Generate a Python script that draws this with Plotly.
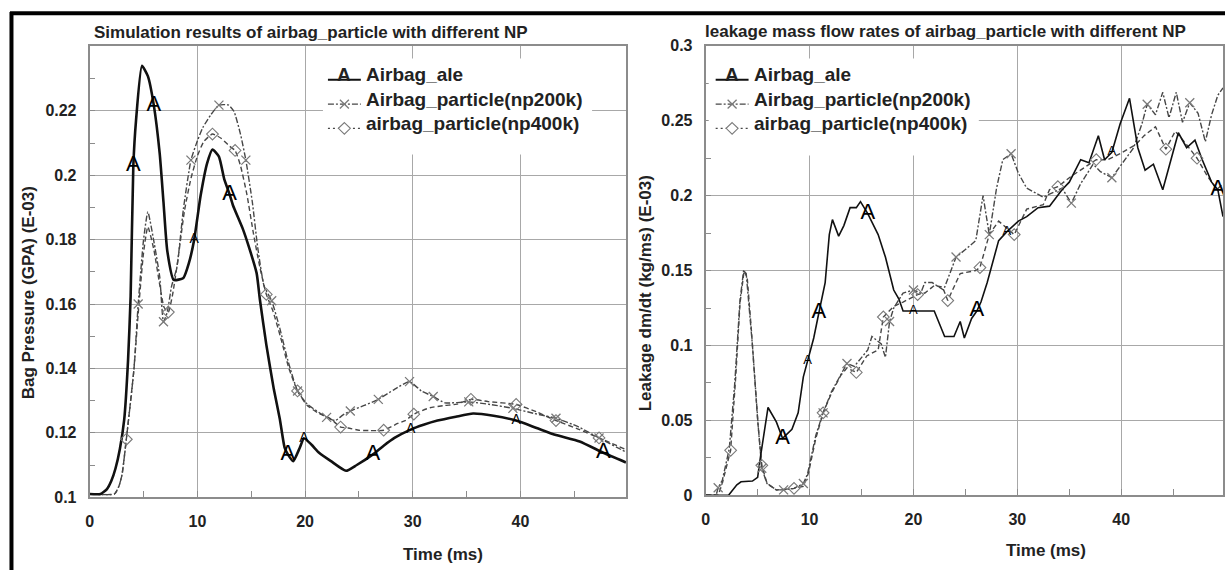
import numpy as np
import plotly.graph_objects as go

W, H = 1225, 579
FONT = "Liberation Sans"

# ---------------- Bag pressure vs time (left panel) ----------------
press_ale_t = [0, 1.0, 1.6, 2.0, 2.4, 2.8, 3.2, 3.56, 3.8, 4.05, 4.3, 4.85, 5.4, 5.95, 6.5,
               6.85, 7.2, 7.8, 8.7, 9.2, 9.7, 10.3, 10.9, 11.4, 12.0, 12.5, 13.0, 13.3, 14.2, 14.7,
               15.5, 15.8, 16.4, 17.1, 17.65, 18.1, 18.4, 18.9, 19.5, 19.9, 20.6, 21.3, 22.4, 23.8, 24.8,
               26.3, 27.3, 28.3, 29.8, 31.0, 32.3, 34.0, 35.6, 37.5, 39.6, 41.5, 43.3, 45.5, 47.7, 49.8]
press_ale_v = [0.101, 0.101, 0.1025, 0.105, 0.109, 0.115, 0.124, 0.1425, 0.1625, 0.203, 0.217, 0.234, 0.2308, 0.2218, 0.2067,
               0.1917, 0.1766, 0.1675, 0.1681, 0.1726, 0.180, 0.1937, 0.2037, 0.208, 0.2058, 0.1987, 0.194, 0.1907, 0.1835, 0.1786,
               0.1696, 0.1615, 0.1474, 0.1335, 0.1244, 0.1154, 0.1133, 0.1112, 0.1153, 0.1183, 0.1163, 0.1138, 0.1112, 0.1082, 0.110,
               0.1133, 0.116, 0.1184, 0.121, 0.1225, 0.1238, 0.125, 0.126, 0.1253, 0.1238, 0.1215, 0.1193, 0.1173, 0.1138, 0.1108]

press_np200_t = [0, 2.3, 2.7, 3.0, 3.4, 4.1, 4.5, 5.0, 5.4, 5.95, 6.5, 6.85, 7.2, 7.6, 8.1,
                 8.7, 9.4, 10.0, 10.5, 11.25, 12.0, 12.9, 13.4, 14.0, 14.5, 15.1, 15.6, 16.2, 16.9, 17.65,
                 18.4, 19.3, 20.2, 21.3, 22.0, 22.8, 23.5, 24.2, 25.5, 26.8, 28.3, 29.7, 30.8, 31.9, 33.0,
                 35.2, 37.2, 39.3, 41.3, 43.3, 45.3, 47.3, 49.8]
press_np200_v = [0.101, 0.101, 0.1033, 0.107, 0.118, 0.1395, 0.160, 0.180, 0.1886, 0.1796, 0.1685, 0.1545, 0.1575, 0.1655, 0.1715,
                 0.1895, 0.2047, 0.2107, 0.2148, 0.2188, 0.2218, 0.2218, 0.2198, 0.2128, 0.2047, 0.1917, 0.1776, 0.1655, 0.161, 0.1525,
                 0.1425, 0.133, 0.1289, 0.1263, 0.1248, 0.1238, 0.1255, 0.1268, 0.1285, 0.1304, 0.1335, 0.1359, 0.133, 0.1313, 0.1293,
                 0.1296, 0.1288, 0.1276, 0.126, 0.1245, 0.122, 0.1184, 0.114]

press_np400_t = [0, 2.3, 2.7, 3.0, 3.4, 4.1, 4.5, 5.0, 5.4, 5.95, 6.5, 6.9, 7.3, 7.7, 8.2,
                 8.8, 9.4, 10.0, 10.6, 11.4, 12.2, 13.0, 13.5, 14.0, 14.6, 15.2, 15.8, 16.4, 17.0, 17.7,
                 18.5, 19.3, 20.2, 21.3, 22.3, 23.3, 24.0, 25.0, 26.0, 27.3, 28.6, 29.3, 30.1, 31.6, 33.0,
                 34.1, 35.4, 37.0, 39.6, 41.5, 43.3, 45.5, 47.3, 49.8]
press_np400_v = [0.101, 0.101, 0.1033, 0.107, 0.118, 0.1395, 0.157, 0.176, 0.184, 0.177, 0.166, 0.159, 0.1575, 0.163, 0.174,
                 0.189, 0.199, 0.206, 0.2105, 0.2128, 0.2115, 0.209, 0.2077, 0.203, 0.194, 0.182, 0.1715, 0.163, 0.158, 0.150,
                 0.140, 0.133, 0.1285, 0.126, 0.1245, 0.1218, 0.1215, 0.1208, 0.1207, 0.1208, 0.1229, 0.1238, 0.1258, 0.1278, 0.1285,
                 0.1289, 0.1304, 0.1297, 0.1288, 0.1265, 0.1238, 0.121, 0.1184, 0.1148]

press_np200_marks = [4.5, 6.85, 9.4, 12.0, 14.5, 16.9, 19.3, 22.0, 24.2, 26.8, 29.7, 31.9, 35.2, 39.3, 43.3, 47.3]
press_np400_marks = [3.4, 7.3, 11.4, 13.5, 16.4, 19.3, 23.3, 27.3, 30.1, 35.4, 39.6, 43.3, 47.3]
press_ale_labels = [4.05, 5.95, 9.7, 13.0, 18.4, 19.9, 26.3, 29.8, 39.6, 47.7]
press_ale_label_sizes = [22, 22, 14, 22, 22, 14, 22, 14, 14, 22]

# ---------------- Leakage mass flow rate vs time (right panel) ----------------
leak_ale_t = [0, 2.2, 3.0, 3.4, 4.5, 5.0, 5.3, 6.0, 6.8, 7.4, 8.3, 8.9, 9.4, 9.8, 10.4,
              10.9, 11.5, 11.9, 12.2, 12.8, 13.3, 13.9, 14.5, 14.9, 15.6, 16.6, 17.3, 18.1, 18.6, 19.0,
              20.0, 21.1, 22.0, 23.0, 23.9, 24.5, 24.9, 25.6, 26.1, 26.5, 27.1, 28.2, 29.0, 30.1, 30.9,
              32.0, 33.1, 34.3, 35.0, 36.1, 36.9, 37.8, 38.4, 39.1, 39.9, 40.8, 41.6, 42.3, 43.1, 44.0,
              44.8, 45.5, 46.3, 47.1, 47.8, 48.7, 49.3, 49.8]
leak_ale_v = [0, 0, 0.007, 0.009, 0.0095, 0.012, 0.027, 0.0586, 0.049, 0.038, 0.044, 0.055, 0.079, 0.090, 0.105,
              0.122, 0.142, 0.174, 0.184, 0.173, 0.180, 0.192, 0.192, 0.196, 0.188, 0.174, 0.159, 0.137, 0.131, 0.123,
              0.123, 0.123, 0.123, 0.106, 0.106, 0.116, 0.105, 0.118, 0.123, 0.129, 0.142, 0.170, 0.176, 0.183, 0.186,
              0.192, 0.193, 0.204, 0.209, 0.224, 0.222, 0.240, 0.224, 0.229, 0.248, 0.265, 0.232, 0.217, 0.221, 0.204,
              0.225, 0.242, 0.232, 0.237, 0.224, 0.209, 0.204, 0.186]

leak_np200_t = [0, 1.0, 1.2, 1.6, 2.27, 2.8, 3.3, 3.65, 3.9, 4.2, 4.5, 5.1, 5.4, 5.9, 6.8,
                7.5, 8.5, 9.4, 9.8, 10.6, 11.3, 12.1, 13.0, 13.6, 14.3, 15.1, 15.6, 16.0, 16.9, 17.3,
                17.7, 18.1, 19.0, 20.0, 20.7, 21.1, 21.8, 22.9, 24.1, 25.0, 26.0, 26.7, 27.3, 28.0, 28.6,
                29.4, 30.1, 30.9, 31.7, 32.5, 33.1, 34.3, 35.2, 36.1, 37.3, 38.0, 39.1, 40.3, 41.2, 42.0,
                42.5, 43.3, 44.0, 44.6, 45.3, 45.9, 46.6, 47.4, 48.1, 48.7, 49.3, 49.8]
leak_np200_v = [0, 0, 0.005, 0.010, 0.031, 0.075, 0.130, 0.150, 0.148, 0.125, 0.100, 0.042, 0.018, 0.0078, 0.0036,
                0.0036, 0.0046, 0.0078, 0.0141, 0.040, 0.055, 0.069, 0.081, 0.088, 0.086, 0.093, 0.097, 0.106, 0.101, 0.092,
                0.116, 0.125, 0.135, 0.137, 0.135, 0.142, 0.142, 0.137, 0.159, 0.164, 0.170, 0.200, 0.174, 0.205, 0.224,
                0.228, 0.215, 0.205, 0.202, 0.199, 0.201, 0.205, 0.195, 0.208, 0.221, 0.216, 0.212, 0.223, 0.232, 0.248,
                0.261, 0.254, 0.269, 0.252, 0.269, 0.249, 0.262, 0.255, 0.236, 0.254, 0.267, 0.272]

leak_np400_t = [0, 1.2, 1.6, 2.4, 2.9, 3.3, 3.7, 4.0, 4.4, 5.0, 5.4, 5.9, 6.8, 7.5, 8.5,
                9.4, 9.9, 10.6, 11.3, 12.1, 13.0, 13.6, 14.5, 15.5, 16.6, 17.1, 18.1, 19.0, 20.4, 21.1,
                22.0, 22.8, 23.3, 24.5, 26.0, 26.4, 27.3, 28.2, 29.7, 30.9, 32.5, 33.1, 33.9, 35.2, 36.1,
                37.6, 38.7, 39.9, 41.4, 42.2, 43.3, 44.3, 45.2, 46.3, 47.3, 48.3, 49.2, 49.8]
leak_np400_v = [0, 0, 0.008, 0.030, 0.080, 0.128, 0.150, 0.145, 0.110, 0.050, 0.020, 0.008, 0.0035, 0.004, 0.0046,
                0.006, 0.015, 0.038, 0.055, 0.068, 0.080, 0.085, 0.082, 0.093, 0.097, 0.119, 0.126, 0.129, 0.134, 0.135,
                0.140, 0.139, 0.130, 0.148, 0.150, 0.152, 0.174, 0.183, 0.174, 0.191, 0.194, 0.204, 0.206, 0.213, 0.217,
                0.224, 0.224, 0.228, 0.234, 0.240, 0.246, 0.231, 0.243, 0.234, 0.225, 0.213, 0.204, 0.208]

leak_np200_marks = [1.2, 5.4, 7.5, 9.4, 11.3, 13.6, 17.7, 20.0, 24.1, 27.3, 29.4, 35.2, 39.1, 42.5, 46.6]
leak_np400_marks = [2.4, 5.4, 8.5, 11.3, 14.5, 17.1, 20.4, 23.3, 26.4, 29.7, 33.9, 37.6, 44.3, 47.3]
leak_ale_labels = [7.4, 9.8, 10.9, 15.6, 20.0, 26.1, 29.0, 39.1, 49.3]
leak_ale_label_sizes = [22, 13, 22, 22, 13, 22, 13, 13, 22]

series_names = ["Airbag_ale", "Airbag_particle(np200k)", "airbag_particle(np400k)"]
time_ticks = [0, 10, 20, 30, 40]
press_ticks = [0.1, 0.12, 0.14, 0.16, 0.18, 0.2, 0.22]
leak_ticks = [0, 0.05, 0.1, 0.15, 0.2, 0.25, 0.3]

DASH200 = "6px,2px,2px,2px"
DASH400 = "5px,3px"
LINE_GRAY = "#474747"
MARK_GRAY = "#7a7a7a"


def px(x):
    return x / W


def py(y):
    return 1 - y / H


def pick(t, v, marks):
    t = np.asarray(t, dtype=float)
    v = np.asarray(v, dtype=float)
    idx = [int(np.argmin(np.abs(t - m))) for m in marks]
    return t[idx], v[idx]


fig = go.Figure()


def add_panel(xa, ya, ale_t, ale_v, p2_t, p2_v, p4_t, p4_v, m2, m4, labels, label_sizes,
              ale_width, shape):
    line_kw = dict(shape=shape, smoothing=0.5) if shape == "spline" else dict(shape="linear")
    fig.add_trace(go.Scatter(x=p4_t, y=p4_v, mode="lines", xaxis=xa, yaxis=ya, showlegend=False,
                             line=dict(color=LINE_GRAY, width=1.4, dash=DASH400, **line_kw)))
    fig.add_trace(go.Scatter(x=p2_t, y=p2_v, mode="lines", xaxis=xa, yaxis=ya, showlegend=False,
                             line=dict(color=LINE_GRAY, width=1.4, dash=DASH200, **line_kw)))
    fig.add_trace(go.Scatter(x=ale_t, y=ale_v, mode="lines", xaxis=xa, yaxis=ya, showlegend=False,
                             line=dict(color="#111111", width=ale_width, **line_kw)))
    mx, my = pick(p2_t, p2_v, m2)
    fig.add_trace(go.Scatter(x=mx, y=my, mode="markers", xaxis=xa, yaxis=ya, showlegend=False,
                             marker=dict(symbol="x-thin", size=9, color=MARK_GRAY,
                                         line=dict(color=MARK_GRAY, width=1.3))))
    mx, my = pick(p4_t, p4_v, m4)
    fig.add_trace(go.Scatter(x=mx, y=my, mode="markers", xaxis=xa, yaxis=ya, showlegend=False,
                             marker=dict(symbol="diamond-open", size=9, color=MARK_GRAY,
                                         line=dict(color=MARK_GRAY, width=1.1))))
    lx, ly = pick(ale_t, ale_v, labels)
    fig.add_trace(go.Scatter(x=lx, y=ly, mode="text", text=["A"] * len(lx), xaxis=xa, yaxis=ya,
                             showlegend=False, textposition="middle center",
                             textfont=dict(family=FONT, size=label_sizes, color="#000000")))


add_panel("x", "y", press_ale_t, press_ale_v, press_np200_t, press_np200_v, press_np400_t, press_np400_v,
          press_np200_marks, press_np400_marks, press_ale_labels, press_ale_label_sizes, 2.6, "spline")
add_panel("x2", "y2", leak_ale_t, leak_ale_v, leak_np200_t, leak_np200_v, leak_np400_t, leak_np400_v,
          leak_np200_marks, leak_np400_marks, leak_ale_labels, leak_ale_label_sizes, 1.6, "linear")

tickfont = dict(family=FONT, size=16, color="#222222", weight="bold")
axis_common = dict(
    showgrid=True, gridcolor="#a8a8a8", gridwidth=1, zeroline=False,
    showline=True, linecolor="#8c8c8c", linewidth=2, mirror=True,
    ticks="inside", ticklen=5, tickcolor="#8c8c8c", tickwidth=1,
    tickfont=tickfont,
)

fig.update_layout(
    width=W, height=H,
    margin=dict(l=0, r=0, t=0, b=0),
    paper_bgcolor="white", plot_bgcolor="white",
    showlegend=False,
    xaxis=dict(domain=[px(86), px(624)], range=[0, 49.8], anchor="y", tickvals=time_ticks,
               ticklabelstandoff=9,
               minor=dict(dtick=5, tick0=0, ticks="inside", ticklen=6, tickcolor="#8c8c8c", showgrid=False),
               **axis_common),
    yaxis=dict(domain=[py(504), py(39)], range=[0.1, 0.2402], anchor="x", tickvals=press_ticks,
               ticktext=[f"{v:g}" for v in press_ticks], ticklabelstandoff=8,
               minor=dict(dtick=0.01, tick0=0.1, ticks="inside", ticklen=5, tickcolor="#8c8c8c", showgrid=False),
               **axis_common),
    xaxis2=dict(domain=[px(704), px(1223)], range=[0, 49.8], anchor="y2", tickvals=time_ticks,
                ticklabelstandoff=9,
                minor=dict(dtick=5, tick0=0, ticks="inside", ticklen=6, tickcolor="#8c8c8c", showgrid=False),
                **axis_common),
    yaxis2=dict(domain=[py(502), py(39)], range=[0, 0.3], anchor="x2", tickvals=leak_ticks,
                ticktext=[f"{v:g}" for v in leak_ticks], ticklabelstandoff=8,
                minor=dict(dtick=0.025, tick0=0, ticks="inside", ticklen=5, tickcolor="#8c8c8c", showgrid=False),
                **axis_common),
)

annotations = []
shapes = []


def text(x, y, s, size, anchor="left", angle=0, bold=True, color="#222222"):
    annotations.append(dict(
        x=px(x), y=py(y), xref="paper", yref="paper", text=s, showarrow=False,
        xanchor=anchor, yanchor="middle", textangle=angle,
        font=dict(family=FONT, size=size, color=color, weight="bold" if bold else "normal"),
    ))


def seg(x0, y0, x1, y1, color, width, dash="solid"):
    shapes.append(dict(type="line", xref="paper", yref="paper", layer="above",
                       x0=px(x0), y0=py(y0), x1=px(x1), y1=py(y1),
                       line=dict(color=color, width=width, dash=dash)))


# panel titles and axis titles
text(88, 25, "Simulation results of airbag_particle with different NP", 17)
text(701, 24, "leakage mass flow rates of airbag_particle with different NP", 17)
text(24, 293, "Bag Pressure (GPA) (E-03)", 17, anchor="center", angle=-90)
text(643, 294, "Leakage dm/dt (kg/ms) (E-03)", 17, anchor="center", angle=-90)
text(440, 563, "Time (ms)", 17, anchor="center")
text(1045, 559, "Time (ms)", 17, anchor="center")


# in-plot legends
def legend(x_left, box):
    bx0, by0, bx1, by1 = box
    shapes.append(dict(type="rect", xref="paper", yref="paper", layer="above",
                       x0=px(bx0), x1=px(bx1), y0=py(by1), y1=py(by0),
                       fillcolor="white", line=dict(width=0)))
    rows = [69, 94, 119]
    base = [74, 99, 124]
    s0, s1 = x_left, x_left + 33
    mid = x_left + 16.5
    # row 1: solid line with the "A" letter
    seg(s0, base[0], s1, base[0], "#111111", 2)
    text(mid, rows[0], "A", 19, anchor="center")
    # row 2: dash-dot with x marker
    seg(s0, base[1], s1, base[1], LINE_GRAY, 1.4, DASH200)
    r = 4.5
    seg(mid - r, base[1] - r, mid + r, base[1] + r, MARK_GRAY, 1.3)
    seg(mid - r, base[1] + r, mid + r, base[1] - r, MARK_GRAY, 1.3)
    # row 3: dashed with diamond marker
    seg(s0, base[2], s1, base[2], LINE_GRAY, 1.4, "2px,3px")
    d = 6
    yb = base[2]
    shapes.append(dict(type="path", xref="paper", yref="paper", layer="above",
                       path=f"M {px(mid)},{py(yb - d)} L {px(mid + d)},{py(yb)} "
                            f"L {px(mid)},{py(yb + d)} L {px(mid - d)},{py(yb)} Z",
                       fillcolor="white", line=dict(color=MARK_GRAY, width=1.1)))
    for name, yy in zip(series_names, rows):
        text(x_left + 36, yy, name, 19)


legend(325, (320, 52, 590, 151))
legend(714, (707, 52, 978, 152))

# outer frame (top and left edges)
seg(6, 5.5, W, 5.5, "#000000", 4)
seg(7.5, 4, 7.5, H, "#000000", 4)

fig.update_layout(annotations=annotations, shapes=shapes)
fig.write_html("out.html")
